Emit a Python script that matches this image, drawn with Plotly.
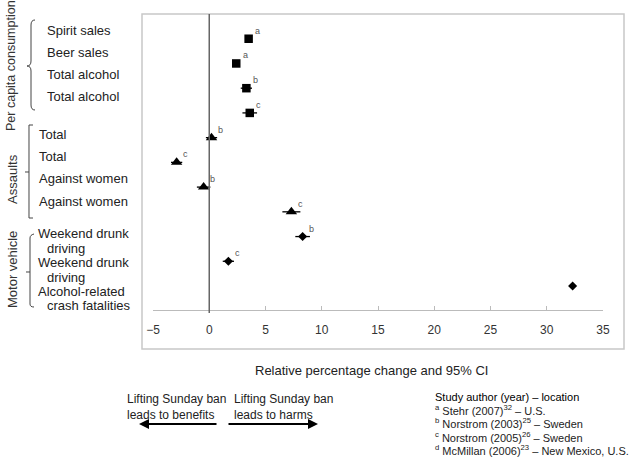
import plotly.graph_objects as go

# ---- data ----
outcomes = ["Spirit sales", "Beer sales", "Total alcohol", "Total alcohol",
            "Total", "Total", "Against women", "Against women",
            "Weekend drunk driving", "Weekend drunk driving",
            "Alcohol-related crash fatalities"]
effects = [3.5, 2.4, 3.3, 3.6, 0.2, -2.9, -0.5, 7.3, 8.3, 1.7, 32.3]
ci_low = [3.2, 2.1, 2.8, 2.95, -0.3, -3.4, -1.1, 6.5, 7.65, 1.2, 32.0]
ci_high = [3.8, 2.7, 3.8, 4.25, 0.7, -2.4, 0.1, 8.1, 8.95, 2.2, 32.6]
studies = ["a", "a", "b", "c", "b", "c", "b", "c", "b", "c", ""]
groups = ["Per capita consumption"] * 4 + ["Assaults"] * 4 + ["Motor vehicle"] * 3
group_symbols = {"Per capita consumption": "square", "Assaults": "triangle-up",
                 "Motor vehicle": "diamond"}
group_sizes = {"Per capita consumption": 8.5, "Assaults": 10, "Motor vehicle": 7}
x_ticks = [-5, 0, 5, 10, 15, 20, 25, 30, 35]
x_title = "Relative percentage change and 95% CI"
legend_title = "Study author (year) – location"
legend_lines = ["<sup>a</sup> Stehr (2007)<sup>32</sup> – U.S.",
                "<sup>b</sup> Norstrom (2003)<sup>25</sup> – Sweden",
                "<sup>c</sup> Norstrom (2005)<sup>26</sup> – Sweden",
                "<sup>d</sup> McMillan (2006)<sup>23</sup> – New Mexico, U.S."]

W, H = 635, 462
L, R, T, B = 153, 32, 14, 152
PW, PH = W - L - R, H - T - B


def px(x):
    return (x - L) / PW


def py(y):
    return (H - B - y) / PH


FONT = "Liberation Sans, Arial, sans-serif"
fig = go.Figure()

rows = list(range(len(outcomes)))
for g in ["Per capita consumption", "Assaults", "Motor vehicle"]:
    idx = [i for i in rows if groups[i] == g]
    fig.add_trace(go.Scatter(
        x=[effects[i] for i in idx], y=[rows[i] for i in idx], mode="markers",
        marker=dict(symbol=group_symbols[g], size=group_sizes[g], color="black"),
        error_x=dict(type="data", symmetric=False,
                     array=[ci_high[i] - effects[i] for i in idx],
                     arrayminus=[effects[i] - ci_low[i] for i in idx],
                     color="black", thickness=1.3, width=0),
        showlegend=False, hoverinfo="skip"))

annotations = []
for i in rows:
    if studies[i]:
        annotations.append(dict(x=effects[i], y=rows[i], xref="x", yref="y",
                                text=studies[i], showarrow=False, xshift=9, yshift=8,
                                font=dict(size=9, color="#555", family=FONT)))

# row labels (positions as in the original figure)
label_pos = [("Spirit sales", 45, 30), ("Beer sales", 45, 52), ("Total alcohol", 45, 74),
             ("Total alcohol", 45, 97), ("Total", 37, 134), ("Total", 37, 156),
             ("Against women", 37, 178), ("Against women", 37, 201),
             ("Weekend drunk", 36, 233), ("driving", 45, 248),
             ("Weekend drunk", 36, 262), ("driving", 45, 277),
             ("Alcohol-related", 36, 291), ("crash fatalities", 45, 305)]
for t, x, y in label_pos:
    annotations.append(dict(x=px(x), y=py(y), xref="paper", yref="paper", text=t,
                            showarrow=False, xanchor="left", yanchor="middle",
                            font=dict(size=13, color="#222", family=FONT)))

for t, y, x, s in [("Per capita consumption", 66, 11, 12.5), ("Assaults", 179, 12, 13),
                   ("Motor vehicle", 270, 12, 13)]:
    annotations.append(dict(x=px(x), y=py(y), xref="paper", yref="paper", text=t,
                            textangle=-90, showarrow=False, xanchor="center",
                            yanchor="middle", font=dict(size=s, color="#333", family=FONT)))

annotations.append(dict(x=px(371), y=py(370), xref="paper", yref="paper", text=x_title,
                        showarrow=False, xanchor="center", yanchor="middle",
                        font=dict(size=13, color="#222", family=FONT)))

for t, x in [("Lifting Sunday ban<br>leads to benefits", 125),
             ("Lifting Sunday ban<br>leads to harms", 232)]:
    annotations.append(dict(x=px(x), y=py(407), xref="paper", yref="paper", text=t,
                            showarrow=False, xanchor="left", yanchor="middle", align="left",
                            font=dict(size=12, color="#222", family=FONT)))

annotations.append(dict(x=px(433), y=py(397), xref="paper", yref="paper",
                        text=legend_title, showarrow=False, xanchor="left",
                        yanchor="middle", font=dict(size=11, color="#000", family=FONT)))
for k, t in enumerate(legend_lines):
    annotations.append(dict(x=px(433), y=py(410 + 13.4 * k), xref="paper", yref="paper",
                            text=t, showarrow=False, xanchor="left", yanchor="middle",
                            font=dict(size=11, color="#222", family=FONT)))

# arrows (tail -> head, pixel offsets)
for x0, x1 in [(218, 139), (227, 318)]:
    annotations.append(dict(x=px(x1), y=py(424), ax=x0 - x1, ay=0,
                            xref="paper", yref="paper", axref="pixel", ayref="pixel",
                            text="", showarrow=True, arrowhead=2, arrowsize=1,
                            arrowwidth=2, arrowcolor="black"))

shapes = []
# frame
shapes.append(dict(type="rect", xref="paper", yref="paper", x0=px(142), x1=px(624),
                   y0=py(349), y1=py(14), line=dict(color="#c8c8c8", width=1.5)))
# zero line
shapes.append(dict(type="line", xref="x", yref="paper", x0=0, x1=0, y0=py(313), y1=1,
                   line=dict(color="#666", width=1.5)))


def path(pts, cmds):
    out = ""
    k = 0
    for c in cmds:
        if c in "ML":
            x, y = pts[k]; k += 1
            out += f"{c} {px(x):.5f},{py(y):.5f} "
        elif c == "Q":
            (x1, y1), (x2, y2) = pts[k], pts[k + 1]; k += 2
            out += f"Q {px(x1):.5f},{py(y1):.5f} {px(x2):.5f},{py(y2):.5f} "
    return out


bc = dict(color="#444", width=1)
# curly brace
shapes.append(dict(type="path", xref="paper", yref="paper", line=bc,
                   path=path([(35, 20), (31, 20), (31, 25), (31, 61), (31, 66), (27, 66),
                              (31, 66), (31, 71), (31, 105), (31, 110), (35, 110)],
                             "MQLQQLQ")))
# assaults bracket
shapes.append(dict(type="path", xref="paper", yref="paper", line=bc,
                   path=path([(33, 125), (29, 125), (29, 218), (33, 218)], "MLLL")
                   + path([(29, 172), (25, 172)], "ML")))
# motor vehicle bracket
shapes.append(dict(type="path", xref="paper", yref="paper", line=bc,
                   path=path([(34, 234), (30, 235), (30, 238), (30, 304), (30, 307),
                              (34, 307)], "MQLQ")
                   + path([(30, 272), (26, 272)], "ML")))

fig.update_layout(
    width=W, height=H, margin=dict(l=L, r=R, t=T, b=B),
    paper_bgcolor="white", plot_bgcolor="white",
    xaxis=dict(range=[-5, 35], tickvals=x_ticks, showgrid=False, zeroline=False,
               showline=True, linecolor="#bbb", linewidth=1, ticks="inside",
               ticklen=4, tickcolor="#bbb", ticklabelstandoff=9,
               tickfont=dict(size=12, color="#333", family=FONT)),
    yaxis=dict(range=[10.97, -1.0], visible=False, showgrid=False, zeroline=False),
    annotations=annotations, shapes=shapes, showlegend=False,
)

fig.write_html("out.html", config={"displayModeBar": False},
               post_script="document.body.style.margin='0';document.body.style.overflow='hidden';")
